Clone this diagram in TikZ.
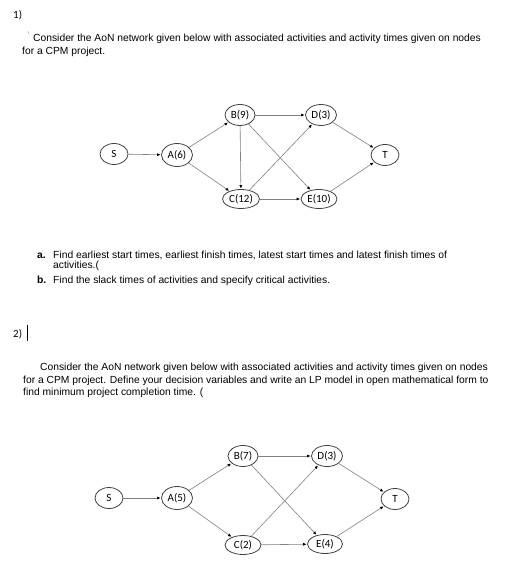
\documentclass[tikz,border=0pt]{standalone}
\usepackage{fontspec}
\setmainfont{Liberation Sans}
\newfontfamily\calib{Carlito}
\usepackage{tikz}
\usetikzlibrary{shapes.geometric,arrows.meta}

\begin{document}
\begin{tikzpicture}[x=1pt,y=-1pt,
  actividad/.style={draw=black!75,ellipse,line width=0.8pt,minimum width=30pt,
    minimum height=21pt,inner sep=0pt,font=\calib\fontsize{11}{12}\selectfont},
  flecha/.style={draw=black!50,line width=0.6pt,
    -{Latex[length=3.5pt,width=3pt,color=black]},shorten >=0.5pt},
  texto/.style={anchor=base west,inner sep=0pt,font=\fontsize{10.3}{12}\selectfont}]
  \useasboundingbox (0,0) rectangle (514,577);
  % primera pregunta
  \node[texto,font=\calib\fontsize{11}{12}\selectfont] (p1) at (13,19) {1)};
  \draw[black!40,line width=0.4pt] (28,31) -- (28.6,33.5);
  \node[texto] (l1) at (33,42) {Consider the AoN network given below with associated activities and activity times given on nodes};
  \node[texto] (l2) at (22,55) {for a CPM project.};
  % red 1
  \node[actividad,minimum width=28pt] (S) at (114,154) {S};
  \node[actividad,minimum width=31pt,minimum height=23pt] (A) at (177,155) {A(6)};
  \node[actividad] (B) at (240,115) {B(9)};
  \node[actividad,minimum width=31pt] (D) at (321,115) {D(3)};
  \node[actividad,minimum width=37pt,minimum height=19pt] (C) at (241,199) {C(12)};
  \node[actividad,minimum width=36pt,minimum height=19pt] (E) at (319,199) {E(10)};
  \node[actividad,minimum width=28pt] (T) at (385,155) {T};
  \draw[flecha] (S) -- (A);
  \draw[flecha] (A) -- (B);
  \draw[flecha] (A) -- (C);
  \draw[flecha] (B) -- (D);
  \draw[flecha] (B) -- (C);
  \draw[flecha] (B) -- (E);
  \draw[flecha] (C) -- (D);
  \draw[flecha] (C) -- (E);
  \draw[flecha] (D) -- (T);
  \draw[flecha] (E) -- (T);
  % incisos
  \node[texto,font=\bfseries\fontsize{10.3}{12}\selectfont] (ia) at (37,258) {a.};
  \node[texto] (ta) at (53,258) {Find earliest start times, earliest finish times, latest start times and latest finish times of};
  \node[texto] (ta2) at (53,268.5) {activities.(};
  \node[texto,font=\bfseries\fontsize{10.3}{12}\selectfont] (ib) at (37,283) {b.};
  \node[texto] (tb) at (53,283) {Find the slack times of activities and specify critical activities.};
  % segunda pregunta
  \node[texto,font=\calib\fontsize{11}{12}\selectfont] (p2) at (13,337) {2)};
  \draw[black,line width=0.7pt] (27,325) -- (27,341);
  \node[texto] (m1) at (40,370) {Consider the AoN network given below with associated activities and activity times given on nodes};
  \node[texto] (m2) at (23,383) {for a CPM project. Define your decision variables and write an LP model in open mathematical form to};
  \node[texto] (m3) at (23,395.5) {find minimum project completion time. (};
  % red 2
  \node[actividad,minimum width=28pt] (S2) at (109,498) {S};
  \node[actividad,minimum width=31pt,minimum height=23pt] (A2) at (177,498) {A(5)};
  \node[actividad] (B2) at (243,456) {B(7)};
  \node[actividad,minimum width=31pt] (D2) at (327,456) {D(3)};
  \node[actividad,minimum width=36pt,minimum height=19pt] (C2) at (243,545) {C(2)};
  \node[actividad,minimum width=35pt,minimum height=19pt] (E2) at (325,544) {E(4)};
  \node[actividad,minimum width=28pt] (T2) at (395,499) {T};
  \draw[flecha] (S2) -- (A2);
  \draw[flecha] (A2) -- (B2);
  \draw[flecha] (A2) -- (C2);
  \draw[flecha] (B2) -- (D2);
  \draw[flecha] (B2) -- (E2);
  \draw[flecha] (C2) -- (D2);
  \draw[flecha] (C2) -- (E2);
  \draw[flecha] (D2) -- (T2);
  \draw[flecha] (E2) -- (T2);
\end{tikzpicture}
\end{document}
